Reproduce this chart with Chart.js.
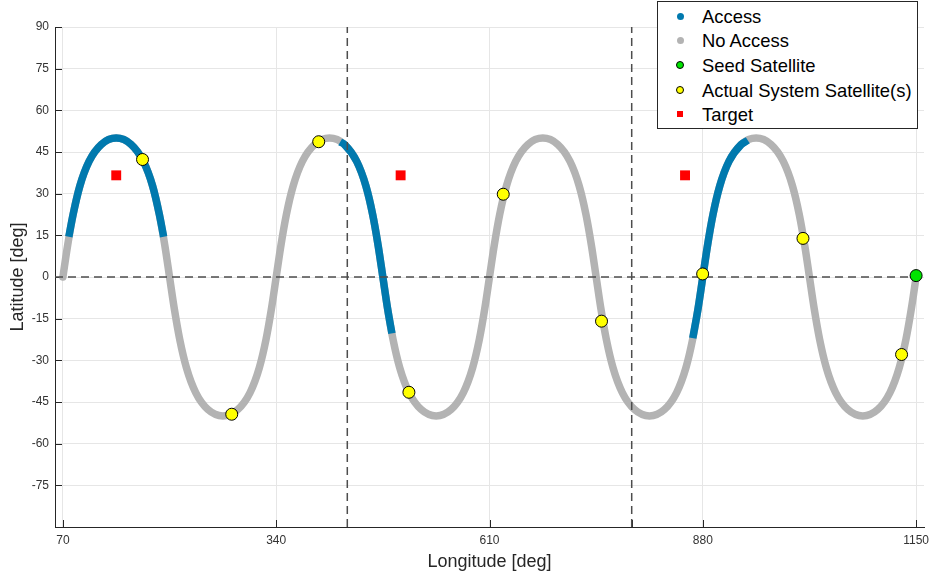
<!DOCTYPE html>
<html>
<head>
<meta charset="utf-8">
<title>Ground track access</title>
<script src="https://cdn.jsdelivr.net/npm/chart.js@4.4.0/dist/chart.umd.min.js"></script>
<style>
  body { margin: 0; background: #fff; }
  #wrap { position: relative; width: 931px; height: 577px; }
  #legend {
    position: absolute; left: 657px; top: 1px; width: 261px; height: 128px;
    border: 1px solid #262626; background: #fff; box-sizing: border-box;
    font-family: "Liberation Sans", Arial, Helvetica, sans-serif; font-size: 18.4px; color: #000;
  }
  .row { position: absolute; left: 0; height: 24px; line-height: 24px; white-space: nowrap; }
  .row span.txt { position: absolute; left: 44px; top: 0; }
  .mk { position: absolute; box-sizing: border-box; }
</style>
</head>
<body>
<div id="wrap">
  <canvas id="chart" width="931" height="577"></canvas>
  <div id="legend"></div>
</div>
<script>
// --- données ---
const xTicks = [70, 340, 610, 880, 1150];
const lonLimits = [60, 1160];
const latLimits = [-90, 90];

// trace au sol complète (gris = pas d'accès)
const trackLon = [
  70, 76.0, 82.9, 91.5, 103.1, 118.6, 137.5, 156.4, 171.9, 183.5, 192.1, 199.0,
  205.0, 211.0, 217.9, 226.5, 238.1, 253.6, 272.5, 291.4, 306.9, 318.5, 327.1, 334.0,
  340, 346.0, 352.9, 361.5, 373.1, 388.6, 407.5, 426.4, 441.9, 453.5, 462.1, 469.0,
  475.0, 481.0, 487.9, 496.5, 508.1, 523.6, 542.5, 561.4, 576.9, 588.5, 597.1, 604.0,
  610, 616.0, 622.9, 631.5, 643.1, 658.6, 677.5, 696.4, 711.9, 723.5, 732.1, 739.0,
  745.0, 751.0, 757.9, 766.5, 778.1, 793.6, 812.5, 831.4, 846.9, 858.5, 867.1, 874.0,
  880, 886.0, 892.9, 901.5, 913.1, 928.6, 947.5, 966.4, 981.9, 993.5, 1002.1, 1009.0,
  1015.0, 1021.0, 1027.9, 1036.5, 1048.1, 1063.6, 1082.5, 1101.4, 1116.9, 1128.5, 1137.1, 1144.0,
  1150
];
const trackLat = [
  0, 11.4, 22.5, 32.8, 41.6, 47.7, 50.0, 47.7, 41.6, 32.8, 22.5, 11.4,
  0, -11.4, -22.5, -32.8, -41.6, -47.7, -50.0, -47.7, -41.6, -32.8, -22.5, -11.4,
  0, 11.4, 22.5, 32.8, 41.6, 47.7, 50.0, 47.7, 41.6, 32.8, 22.5, 11.4,
  0, -11.4, -22.5, -32.8, -41.6, -47.7, -50.0, -47.7, -41.6, -32.8, -22.5, -11.4,
  0, 11.4, 22.5, 32.8, 41.6, 47.7, 50.0, 47.7, 41.6, 32.8, 22.5, 11.4,
  0, -11.4, -22.5, -32.8, -41.6, -47.7, -50.0, -47.7, -41.6, -32.8, -22.5, -11.4,
  0, 11.4, 22.5, 32.8, 41.6, 47.7, 50.0, 47.7, 41.6, 32.8, 22.5, 11.4,
  0, -11.4, -22.5, -32.8, -41.6, -47.7, -50.0, -47.7, -41.6, -32.8, -22.5, -11.4,
  0
];

// portions avec accès (bleu), null = coupure
const accessLon = [
  77.5, 82.9, 91.5, 103.1, 118.6, 137.5, 156.4, 171.9, 183.5, 192.1, 197.5,
  300,
  421.0, 426.4, 441.9, 453.5, 462.1, 469.0, 475.0, 481.0, 486.5,
  700,
  867.3, 874.0, 880.0, 886.0, 892.9, 901.5, 913.1, 928.6, 937.0
];
const accessLat = [
  14.5, 22.5, 32.8, 41.6, 47.7, 50.0, 47.7, 41.6, 32.8, 22.5, 14.5,
  null,
  48.6, 47.7, 41.6, 32.8, 22.5, 11.4, 0, -11.4, -20.3,
  null,
  -22.0, -11.4, 0, 11.4, 22.5, 32.8, 41.6, 47.7, 49.2
];

const satLon = [170.8, 283.7, 393.8, 508.0, 627.4, 751.8, 879.8, 1006.8, 1131.6];
const satLat = [42.3, -49.4, 48.7, -41.5, 29.8, -15.9, 1.1, 13.9, -27.9];

const seedLon = [1150];
const seedLat = [0.5];

const targetLon = [137.5, 497.5, 857.5];
const targetLat = [36.6, 36.6, 36.6];

const wrapLon = [430, 790];   // lignes verticales pointillées
const equatorLat = 0;         // ligne horizontale pointillée

const legendLabels = ['Access', 'No Access', 'Seed Satellite', 'Actual System Satellite(s)', 'Target'];

// --- couleurs ---
const BLUE = '#0079ae';
const GRAY = '#b3b3b3';
const GREEN = '#00e400';
const YELLOW = '#ffff00';
const RED = '#ff0000';
const DASH = '#4d4d4d';
const FONT = '"Liberation Sans", Arial, Helvetica, sans-serif';

const pts = (xs, ys) => xs.map((x, i) => ({ x: x, y: ys[i] }));

// petites graduations vers l'intérieur (style MATLAB)
const innerTicks = {
  id: 'innerTicks',
  beforeDatasetsDraw(chart) {
    const { ctx, chartArea: a, scales: { x, y } } = chart;
    ctx.save();
    ctx.strokeStyle = '#262626';
    ctx.lineWidth = 1;
    ctx.beginPath();
    y.ticks.forEach(t => {
      if (t.value === latLimits[0]) return;
      const py = Math.round(y.getPixelForValue(t.value)) + 0.5;
      ctx.moveTo(a.left, py);
      ctx.lineTo(a.left + 7, py);
    });
    xTicks.concat(wrapLon).forEach(v => {
      const px = Math.round(x.getPixelForValue(v)) + 0.5;
      ctx.moveTo(px, a.bottom);
      ctx.lineTo(px, a.bottom - 7);
    });
    ctx.stroke();
    ctx.restore();
  }
};

const markerDs = (label, xs, ys, color, style, radius, border) => ({
  label: label,
  data: pts(xs, ys),
  showLine: false,
  pointStyle: style,
  pointRadius: radius,
  pointBackgroundColor: color,
  pointBorderColor: '#000',
  pointBorderWidth: border
});

const dashDs = data => ({
  label: '',
  data: data,
  borderColor: DASH,
  borderWidth: 1.5,
  borderDash: [8, 5],
  pointRadius: 0
});

const chart = new Chart(document.getElementById('chart'), {
  type: 'line',
  data: {
    datasets: [
      markerDs('Target', targetLon, targetLat, RED, 'rect', 7, 0),
      markerDs('Seed Satellite', seedLon, seedLat, GREEN, 'circle', 6, 1),
      markerDs('Actual System Satellite(s)', satLon, satLat, YELLOW, 'circle', 6, 1),
      dashDs([{ x: lonLimits[0], y: equatorLat }, { x: lonLimits[1], y: equatorLat }]),
      dashDs([{ x: wrapLon[0], y: latLimits[0] }, { x: wrapLon[0], y: latLimits[1] }]),
      dashDs([{ x: wrapLon[1], y: latLimits[0] }, { x: wrapLon[1], y: latLimits[1] }]),
      {
        label: 'Access',
        data: pts(accessLon, accessLat),
        borderColor: BLUE,
        borderWidth: 7.5,
        borderCapStyle: 'butt',
        cubicInterpolationMode: 'monotone',
        spanGaps: false,
        pointRadius: 0
      },
      {
        label: 'No Access',
        data: pts(trackLon, trackLat),
        borderColor: GRAY,
        borderWidth: 7.5,
        borderCapStyle: 'round',
        borderJoinStyle: 'round',
        cubicInterpolationMode: 'monotone',
        pointRadius: 0
      }
    ]
  },
  options: {
    responsive: false,
    animation: false,
    events: [],
    layout: { padding: { top: 27, right: 6, left: 0, bottom: 0 } },
    plugins: { legend: { display: false }, tooltip: { enabled: false } },
    scales: {
      x: {
        type: 'linear',
        min: lonLimits[0],
        max: lonLimits[1],
        afterBuildTicks: s => { s.ticks = xTicks.map(v => ({ value: v })); },
        afterFit: s => { s.height = 50; s.paddingLeft = 0; s.paddingRight = 0; },
        grid: { color: '#e6e6e6', drawTicks: false },
        border: { color: '#262626' },
        ticks: {
          padding: 6, color: '#333', font: { family: FONT, size: 12 }, maxRotation: 0, autoSkip: false,
          callback: v => String(v)
        },
        title: { display: true, text: 'Longitude [deg]', color: '#262626', font: { family: FONT, size: 18 }, padding: { top: 0, bottom: 4 } }
      },
      y: {
        min: latLimits[0],
        max: latLimits[1],
        afterFit: s => { s.width = 55; s.paddingTop = 0; s.paddingBottom = 0; },
        grid: { color: '#e6e6e6', drawTicks: false },
        border: { color: '#262626' },
        ticks: {
          stepSize: 15, padding: 6, color: '#333', font: { family: FONT, size: 12 },
          callback: v => (v === latLimits[0] ? '' : String(v))
        },
        title: { display: true, text: 'Latitude [deg]', color: '#262626', font: { family: FONT, size: 18 }, padding: { top: 7, bottom: 0 } }
      }
    }
  },
  plugins: [innerTicks]
});

// --- légende (HTML) ---
const legendMarks = [
  { bg: BLUE, border: 0, size: 7, round: true },
  { bg: GRAY, border: 0, size: 7, round: true },
  { bg: GREEN, border: 1, size: 8, round: true },
  { bg: YELLOW, border: 1, size: 8, round: true },
  { bg: RED, border: 0, size: 6, round: false }
];
const legend = document.getElementById('legend');
legendLabels.forEach((lab, i) => {
  const row = document.createElement('div');
  row.className = 'row';
  row.style.top = (2.8 + i * 24.6) + 'px';
  const m = legendMarks[i];
  const mk = document.createElement('span');
  mk.className = 'mk';
  mk.style.width = m.size + 'px';
  mk.style.height = m.size + 'px';
  mk.style.left = (22 - m.size / 2) + 'px';
  mk.style.top = (11.3 - m.size / 2) + 'px';
  mk.style.background = m.bg;
  mk.style.borderRadius = m.round ? '50%' : '0';
  if (m.border) mk.style.border = m.border + 'px solid #000';
  const txt = document.createElement('span');
  txt.className = 'txt';
  txt.textContent = lab;
  row.appendChild(mk);
  row.appendChild(txt);
  legend.appendChild(row);
});
</script>
</body>
</html>
